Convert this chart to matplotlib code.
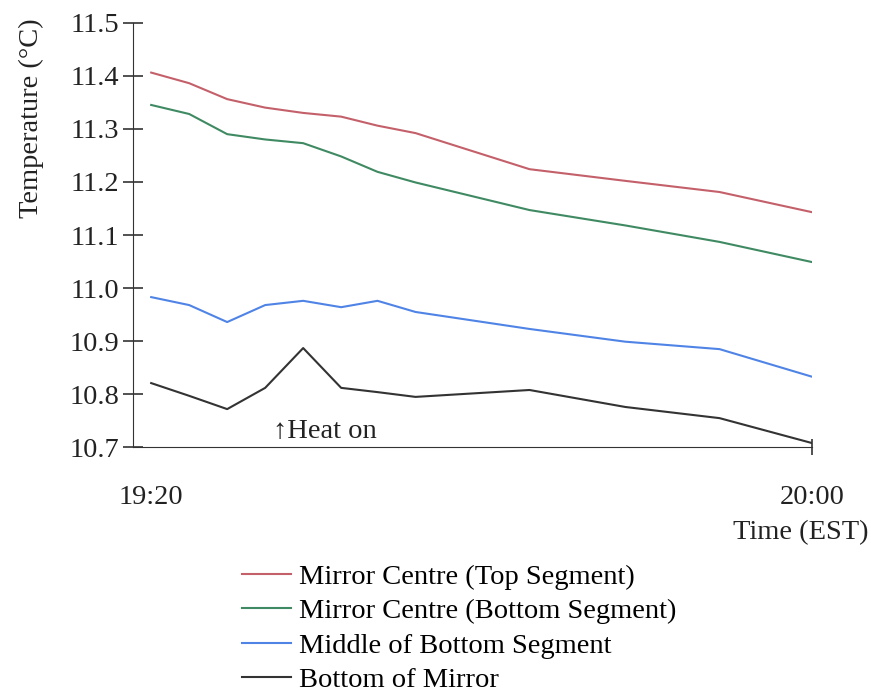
import matplotlib
matplotlib.use('Agg')
import matplotlib.pyplot as plt

# minutes after 19:20 for each reading
minutes = [0, 2.3, 4.6, 6.9, 9.2, 11.5, 13.7, 16.0, 22.9, 28.7, 34.4, 40]

top_centre = [11.406, 11.386, 11.356, 11.340, 11.330, 11.323, 11.306, 11.292, 11.224, 11.202, 11.181, 11.143]
bottom_centre = [11.345, 11.328, 11.290, 11.280, 11.273, 11.248, 11.219, 11.199, 11.147, 11.118, 11.087, 11.049]
middle_bottom = [10.983, 10.968, 10.936, 10.968, 10.976, 10.964, 10.976, 10.955, 10.923, 10.899, 10.885, 10.833]
bottom_mirror = [10.821, 10.797, 10.772, 10.812, 10.887, 10.812, 10.804, 10.795, 10.808, 10.776, 10.755, 10.708]

labels = ['Mirror Centre (Top Segment)', 'Mirror Centre (Bottom Segment)',
          'Middle of Bottom Segment', 'Bottom of Mirror']
colors = ['#c4606a', '#3f8a62', '#4f84e6', '#333333']
y_ticks = [10.7, 10.8, 10.9, 11.0, 11.1, 11.2, 11.3, 11.4, 11.5]

plt.rcParams['font.family'] = ['Liberation Serif', 'DejaVu Serif']
plt.rcParams['font.size'] = 20.5

fig = plt.figure(figsize=(8.71, 6.96), dpi=100)
ax = fig.add_axes([0.1527, 0.3573, 0.7796, 0.6101])

lines = []
for vals, c, lab in zip([top_centre, bottom_centre, middle_bottom, bottom_mirror], colors, labels):
    ln, = ax.plot(minutes, vals, color=c, lw=1.5, label=lab)
    lines.append(ln)

ax.set_xlim(-1.1, 40)
ax.set_ylim(10.7, 11.5)
ax.spines['top'].set_visible(False)
ax.spines['right'].set_visible(False)
ax.spines['left'].set_color('#333333')
ax.spines['bottom'].set_color('#333333')

ax.set_yticks(y_ticks)
ax.set_yticklabels(['%.1f' % v for v in y_ticks], color='#222222')
ax.tick_params(axis='y', direction='inout', length=14, width=1.2, color='#333333', pad=3)

ax.set_xticks([0, 40])
ax.set_xticklabels(['19:20', '20:00'], color='#222222')
ax.tick_params(axis='x', direction='inout', length=12, width=1.2, color='#333333', pad=21)
ax.xaxis.get_major_ticks()[0].tick1line.set_visible(False)

ax.set_ylabel('Temperature (°C)', loc='top', color='#222222')
ax.yaxis.set_label_coords(-0.131, 1.01)
ax.set_xlabel('Time (EST)', loc='right', color='#222222')
ax.xaxis.set_label_coords(1.083, -0.172)

ax.text(7.4, 10.729, '↑Heat on', ha='left', va='center', color='#222222')

fig.legend(handles=lines, loc='upper left', bbox_to_anchor=(0.278, 0.19),
           frameon=False, borderpad=0, borderaxespad=0, handlelength=1.7,
           handletextpad=0.3, labelspacing=0.3)

fig.savefig('out.png', dpi=100)
